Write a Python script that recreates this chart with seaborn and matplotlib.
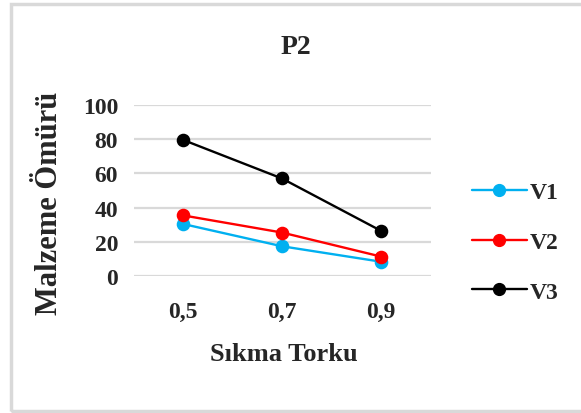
import matplotlib
matplotlib.use("Agg")
import matplotlib.pyplot as plt
import seaborn as sns
import pandas as pd
from matplotlib.patches import Rectangle
from matplotlib.lines import Line2D

categories = ["0,5", "0,7", "0,9"]
v1 = [30.5, 17.5, 8.5]
v2 = [35.5, 25.5, 11.5]
v3 = [79.5, 57.0, 26.5]
series_names = ["V1", "V2", "V3"]
colors = ["#00B0F0", "#FF0000", "#000000"]
yticks = [0, 20, 40, 60, 80, 100]

df = pd.DataFrame({
    "x": categories * 3,
    "y": v1 + v2 + v3,
    "s": [n for n in series_names for _ in categories],
})

sns.set_theme(style="white")
plt.rcParams["font.family"] = ["Liberation Serif", "DejaVu Serif"]
plt.rcParams["font.weight"] = "bold"

W, H = 581, 414
fig = plt.figure(figsize=(W / 100, H / 100), dpi=100)
ax = fig.add_axes([133.5 / W, 1 - 277.3 / H, 297 / W, 171.6 / H])

sns.pointplot(data=df, x="x", y="y", hue="s", palette=colors, order=categories,
              markers="o", linestyles="-", ax=ax, legend=False,
              markersize=8.5, linewidth=1.7)

ax.set_xlim(-0.5, 2.5)
ax.set_ylim(0, 100)
ax.set_yticks(yticks)
ax.set_yticklabels([str(t) for t in yticks], fontsize=17, fontweight="bold")
ax.set_xticklabels(categories, fontsize=17, fontweight="bold")
ax.yaxis.grid(True, color="#D9D9D9", linewidth=1.6)
ax.set_axisbelow(True)
for sp in ax.spines.values():
    sp.set_visible(False)
ax.tick_params(axis="y", length=0, pad=11)
ax.tick_params(axis="x", length=0, pad=18)
ax.set_xlabel("")
ax.set_ylabel("")
fig.text(283.5 / W, 1 - 355 / H, "Sıkma Torku", fontsize=19, fontweight="bold",
         ha="center", va="center")
fig.text(50 / W, 1 - 203 / H, "Malzeme Ömürü", fontsize=22, fontweight="bold",
         ha="center", va="center", rotation=90)
fig.text(296 / W, 1 - 48 / H, "P2", fontsize=20, fontweight="bold",
         ha="center", va="center")

handles = [Line2D([0], [0], color=c, marker="o", markersize=8.5, linewidth=1.7)
           for c in colors]
fig.legend(handles, series_names, loc="center left",
           bbox_to_anchor=(451 / W, 1 - 243 / H), frameon=False,
           prop={"family": "Liberation Serif", "weight": "bold", "size": 17},
           labelspacing=1.2, handlelength=2.3, handletextpad=0.15)

fig.patches.append(Rectangle((10.5 / W, 1 - 411.5 / H), 590 / W, 407 / H,
                             transform=fig.transFigure, fill=False,
                             edgecolor="#D9D9D9", linewidth=2.5))

fig.savefig("out.png", dpi=100, facecolor="white")
